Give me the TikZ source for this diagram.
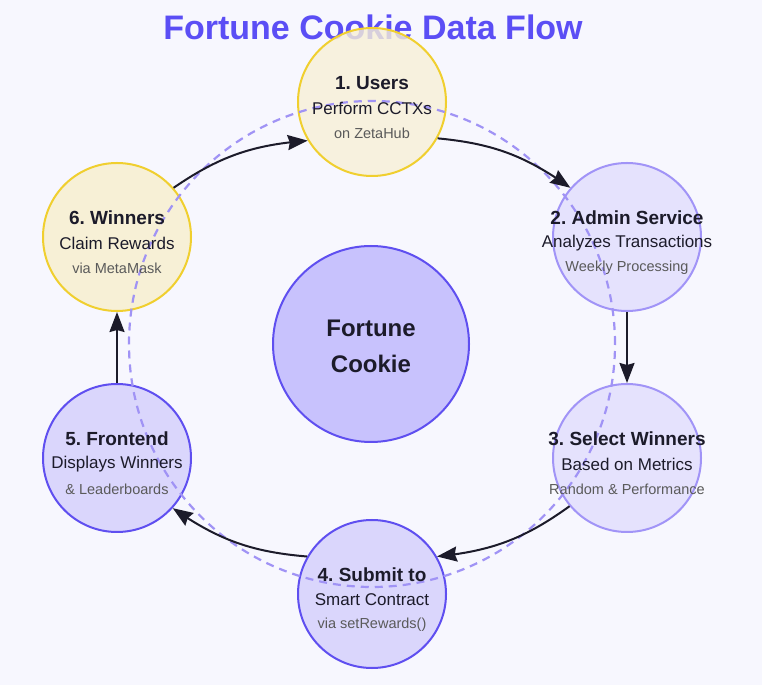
\documentclass[tikz,border=0pt]{standalone}
\usepackage{fontspec}
\setmainfont{Liberation Sans}
\usetikzlibrary{arrows.meta,bending}
\frenchspacing

\definecolor{pagebg}{HTML}{F7F7FE}
\definecolor{titlecol}{HTML}{5B4EF5}
\definecolor{goldfill}{HTML}{F7F0D6}
\definecolor{goldline}{HTML}{F0CF2F}
\definecolor{lilacfill}{HTML}{E5E2FD}
\definecolor{lilacline}{HTML}{A194F7}
\definecolor{violetfill}{HTML}{DAD6FC}
\definecolor{violetline}{HTML}{5F4FF0}
\definecolor{corefill}{HTML}{C8C2FD}
\definecolor{ringcol}{HTML}{A093F5}
\definecolor{inkcol}{HTML}{1C1B2A}
\definecolor{subcol}{HTML}{5A5A5A}

\tikzset{
  stage/.style={circle, line width=2pt, minimum size=148pt, inner sep=0pt},
  goldstage/.style={stage, draw=goldline, fill=goldfill},
  lilacstage/.style={stage, draw=lilacline, fill=lilacfill},
  violetstage/.style={stage, draw=violetline, fill=violetfill},
  headtext/.style={font=\fontsize{19}{22}\selectfont\bfseries, text=inkcol, inner sep=0pt},
  bodytext/.style={font=\fontsize{17}{20}\selectfont, text=inkcol, inner sep=0pt},
  notetext/.style={font=\fontsize{14.5}{17}\selectfont, text=subcol, inner sep=0pt},
  flow/.style={draw=inkcol, line width=2pt, -{Stealth[length=20pt,width=15pt,inset=2pt]}},
  ring/.style={draw=ringcol, line width=2.2pt, dash pattern=on 8pt off 6pt},
}

% three text lines of a stage: name, heading, body, note
\newcommand\stagetext[4]{%
  \node[headtext] (#1-h) at ([yshift=19pt]#1.center) {#2};
  \node[bodytext] (#1-b) at ([yshift=-6pt]#1.center) {#3};
  \node[notetext] (#1-n) at ([yshift=-31pt]#1.center) {#4};
}

\begin{document}
\begin{tikzpicture}[x=1pt,y=1pt]
  \fill[pagebg] (0,0) rectangle (762,685);
  \useasboundingbox (0,0) rectangle (762,685);

  % title
  \node[font=\fontsize{34}{40}\selectfont\bfseries, text=titlecol, inner sep=0pt] (title) at (373,658) {Fortune Cookie Data Flow};

  % stages
  \node[goldstage, fill opacity=0.8] (u1) at (372,583) {};
  \node[lilacstage] (a2) at (627,448) {};
  \node[lilacstage] (s3) at (627,227) {};
  \node[violetstage] (b4) at (372,91) {};
  \node[violetstage] (f5) at (117,227) {};
  \node[goldstage] (w6) at (117,448) {};

  % centre hub
  \node[circle, line width=2pt, draw=violetline, fill=corefill, minimum size=196pt, inner sep=0pt] (hub) at (371,341) {};

  % dashed cycle ring
  \node[circle, ring, minimum size=486pt, inner sep=0pt] (cycle) at (372,341) {};

  % labels
  \stagetext{u1}{1. Users}{Perform CCTXs}{on ZetaHub}
  \stagetext{a2}{2. Admin Service}{Analyzes Transactions}{Weekly Processing}
  \stagetext{s3}{3. Select Winners}{Based on Metrics}{Random \& Performance}
  \stagetext{b4}{4. Submit to}{Smart Contract}{via setRewards()}
  \stagetext{f5}{5. Frontend}{Displays Winners}{\& Leaderboards}
  \stagetext{w6}{6. Winners}{Claim Rewards}{via MetaMask}
  \node[font=\fontsize{24}{28}\selectfont\bfseries, text=inkcol, inner sep=0pt] (hub-a) at ([yshift=16pt]hub.center) {Fortune};
  \node[font=\fontsize{24}{28}\selectfont\bfseries, text=inkcol, inner sep=0pt] (hub-b) at ([yshift=-20pt]hub.center) {Cookie};

  % flow arrows
  \draw[flow] (w6.41) to[bend left=15] (u1.211);
  \draw[flow] (u1.331) to[bend left=15] (a2.139);
  \draw[flow] (a2.south) -- (s3.north);
  \draw[flow] (s3.220) to[bend left=15] (b4.30);
  \draw[flow] (b4.150) to[bend left=15] (f5.318);
  \draw[flow] (f5.north) -- (w6.south);
\end{tikzpicture}
\end{document}
